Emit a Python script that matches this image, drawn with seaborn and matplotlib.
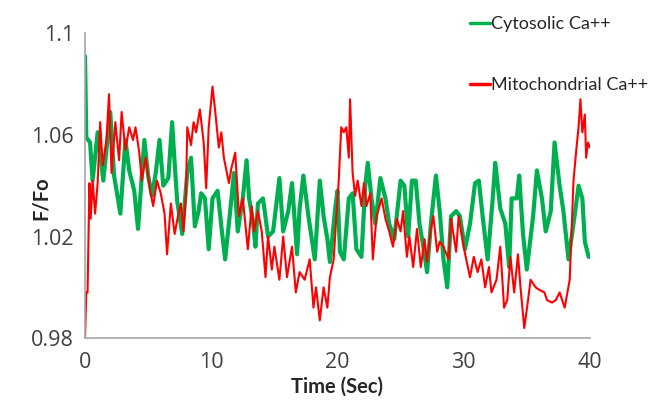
import matplotlib
matplotlib.use("Agg")
import matplotlib.pyplot as plt
import seaborn as sns
import pandas as pd

# Cytosolic Ca++ trace (time in s, F/Fo)
cyto_t = [0.0, 0.1, 0.4, 0.6, 1.0, 1.45, 2.0, 2.3, 2.8, 3.2, 3.5, 3.9, 4.2, 4.7, 5.0,
          5.3, 5.6, 5.9, 6.2, 6.6, 6.9, 7.1, 7.3, 7.7, 8.1, 8.4, 8.7, 9.0, 9.2, 9.5,
          9.8, 10.1, 10.5, 10.8, 11.1, 11.5, 11.8, 12.1, 12.5, 12.8, 13.0, 13.3, 13.5, 13.7, 14.1,
          14.5, 14.9, 15.4, 15.7, 16.1, 16.4, 16.8, 17.0, 17.3, 17.7, 18.2, 18.6, 18.9, 19.2, 19.4,
          19.8, 20.0, 20.2, 20.5, 20.9, 21.2, 21.5, 21.9, 22.2, 22.4, 22.7, 23.0, 23.4, 23.8, 24.1,
          24.5, 25.0, 25.3, 25.6, 25.9, 26.2, 26.5, 26.8, 27.1, 27.4, 27.8, 28.1, 28.4, 28.7, 29.0,
          29.4, 29.7, 30.1, 30.5, 30.9, 31.2, 31.5, 31.9, 32.3, 32.5, 32.9, 33.3, 33.6, 33.8, 34.2,
          34.4, 34.7, 35.0, 35.5, 35.8, 36.2, 36.5, 36.9, 37.2, 37.6, 37.9, 38.3, 38.7, 39.1, 39.4,
          39.6, 39.9, 40.0]
cyto_v = [1.091, 1.059, 1.057, 1.042, 1.061, 1.042, 1.069, 1.044, 1.029, 1.058, 1.046, 1.038, 1.023, 1.058, 1.044,
          1.036, 1.045, 1.058, 1.040, 1.043, 1.065, 1.049, 1.034, 1.021, 1.045, 1.051, 1.024, 1.030, 1.037, 1.035,
          1.015, 1.035, 1.038, 1.024, 1.011, 1.030, 1.045, 1.022, 1.035, 1.050, 1.035, 1.026, 1.016, 1.033, 1.035,
          1.020, 1.022, 1.043, 1.022, 1.030, 1.041, 1.013, 1.031, 1.044, 1.028, 1.011, 1.042, 1.028, 1.019, 1.010,
          1.030, 1.038, 1.014, 1.011, 1.035, 1.037, 1.015, 1.012, 1.040, 1.049, 1.035, 1.025, 1.043, 1.035, 1.025,
          1.019, 1.042, 1.040, 1.020, 1.042, 1.042, 1.025, 1.016, 1.006, 1.025, 1.044, 1.030, 1.011, 1.000, 1.028,
          1.030, 1.028, 1.015, 1.025, 1.041, 1.042, 1.028, 1.011, 1.035, 1.049, 1.031, 1.025, 1.008, 1.035, 1.035,
          1.044, 1.021, 1.007, 1.028, 1.046, 1.035, 1.022, 1.030, 1.057, 1.040, 1.030, 1.011, 1.025, 1.040, 1.035,
          1.018, 1.012, 1.012]

# Mitochondrial Ca++ trace (time in s, F/Fo)
mito_t = [0.0, 0.1, 0.2, 0.35, 0.45, 0.6, 0.8, 1.0, 1.2, 1.4, 1.7, 1.9, 2.1, 2.4, 2.7,
          2.9, 3.2, 3.5, 3.8, 4.0, 4.3, 4.5, 4.8, 5.2, 5.4, 5.7, 6.0, 6.3, 6.5, 6.8,
          7.1, 7.4, 7.6, 7.8, 8.0, 8.1, 8.4, 8.6, 8.8, 9.1, 9.4, 9.6, 9.8, 10.1, 10.3,
          10.6, 10.8, 11.0, 11.4, 11.6, 11.9, 12.2, 12.5, 12.9, 13.2, 13.4, 13.7, 14.0, 14.3, 14.5,
          14.8, 15.0, 15.4, 15.7, 16.0, 16.4, 16.7, 17.0, 17.4, 17.8, 18.1, 18.3, 18.6, 18.9, 19.2,
          19.4, 19.7, 19.9, 20.1, 20.3, 20.5, 20.7, 20.9, 21.0, 21.2, 21.4, 21.6, 21.9, 22.1, 22.3,
          22.6, 22.8, 23.1, 23.5, 23.8, 24.1, 24.4, 24.7, 25.0, 25.2, 25.5, 25.7, 26.0, 26.3, 26.6,
          26.9, 27.1, 27.4, 27.6, 27.9, 28.1, 28.4, 28.8, 29.0, 29.4, 29.6, 30.0, 30.2, 30.5, 30.8,
          31.1, 31.4, 31.7, 32.0, 32.2, 32.6, 32.9, 33.2, 33.45, 33.7, 34.0, 34.3, 34.5, 34.8, 35.1,
          35.3, 35.7, 36.0, 36.4, 36.6, 37.0, 37.3, 37.6, 38.0, 38.4, 38.5, 38.7, 38.9, 39.1, 39.25,
          39.4, 39.6, 39.7, 39.85, 40.0]
mito_v = [0.980, 0.998, 0.998, 1.041, 1.027, 1.042, 1.029, 1.041, 1.065, 1.048, 1.058, 1.076, 1.045, 1.065, 1.050,
          1.069, 1.054, 1.063, 1.058, 1.063, 1.053, 1.042, 1.051, 1.037, 1.032, 1.042, 1.037, 1.029, 1.013, 1.033,
          1.021, 1.029, 1.033, 1.022, 1.037, 1.063, 1.056, 1.065, 1.061, 1.070, 1.057, 1.039, 1.063, 1.079, 1.070,
          1.055, 1.061, 1.051, 1.041, 1.047, 1.053, 1.028, 1.035, 1.015, 1.032, 1.022, 1.030, 1.022, 1.004, 1.020,
          1.007, 1.016, 1.003, 1.020, 1.004, 1.016, 0.998, 1.006, 1.003, 1.011, 0.992, 1.000, 0.987, 1.000, 0.992,
          1.004, 1.011, 1.027, 1.042, 1.063, 1.061, 1.063, 1.051, 1.074, 1.045, 1.036, 1.042, 1.032, 1.041, 1.032,
          1.037, 1.011, 1.028, 1.035, 1.027, 1.022, 1.016, 1.027, 1.022, 1.030, 1.012, 1.020, 1.008, 1.023, 1.008,
          1.019, 1.010, 1.023, 1.028, 1.014, 1.018, 1.016, 1.011, 1.027, 1.014, 1.028, 1.016, 1.011, 1.004, 1.012,
          1.006, 1.011, 1.000, 1.008, 0.998, 1.003, 1.016, 0.992, 0.995, 1.012, 0.998, 1.013, 1.000, 0.984, 0.995,
          1.003, 1.000, 0.999, 0.998, 0.995, 0.994, 0.995, 0.998, 0.992, 1.003, 1.016, 1.042, 1.053, 1.063, 1.074,
          1.061, 1.068, 1.051, 1.057, 1.055]

y_ticks = [0.98, 1.02, 1.06, 1.1]
y_tick_labels = ["0.98", "1.02", "1.06", "1.1"]
x_ticks = [0, 10, 20, 30, 40]
x_tick_labels = ["0", "10", "20", "30", "40"]

cyto = pd.DataFrame({"t": cyto_t, "v": cyto_v})
mito = pd.DataFrame({"t": mito_t, "v": mito_v})

sns.set_style("white")
plt.rcParams["font.family"] = ["Lato", "DejaVu Sans"]

fig = plt.figure(figsize=(6.54, 4.05), dpi=100)
ax = fig.add_axes([0.130, 0.165, 0.772, 0.753])

sns.lineplot(data=cyto, x="t", y="v", ax=ax, color="#00b050", linewidth=3.0,
             label="Cytosolic Ca++", estimator=None, sort=False)
sns.lineplot(data=mito, x="t", y="v", ax=ax, color="#ff0000", linewidth=1.5,
             label="Mitochondrial Ca++", estimator=None, sort=False)

ax.set_xlim(0, 40)
ax.set_ylim(0.98, 1.1)
tick_font = dict(fontfamily=["Open Sans", "DejaVu Sans"], fontsize=15.5, color="#404040")
ax.set_xticks(x_ticks, labels=x_tick_labels, **tick_font)
ax.set_yticks(y_ticks, labels=y_tick_labels, **tick_font)
ax.tick_params(axis="both", direction="out", length=5, width=1, color="#a6a6a6")
ax.tick_params(axis="y", pad=3)
ax.tick_params(axis="x", pad=5)

for side in ("top", "right"):
    ax.spines[side].set_visible(False)
for side in ("left", "bottom"):
    ax.spines[side].set_color("#a6a6a6")
    ax.spines[side].set_linewidth(1.2)

ax.set_xlabel("Time (Sec)", fontsize=14.5, fontweight="bold", color="#262626")
ax.set_ylabel("F/Fo", fontsize=14.5, fontweight="bold", color="#262626")
ax.xaxis.set_label_coords(0.5, -0.125)
ax.yaxis.set_label_coords(-0.068, 0.46)

leg = ax.legend(loc="upper left", bbox_to_anchor=(0.745, 1.086), frameon=False,
                fontsize=13, borderpad=0, handlelength=1.1, handletextpad=0.05,
                labelspacing=2.5)
for line in leg.get_lines():
    line.set_linewidth(2.5)
for txt in leg.get_texts():
    txt.set_color("#262626")

fig.savefig("out.png", dpi=100)
